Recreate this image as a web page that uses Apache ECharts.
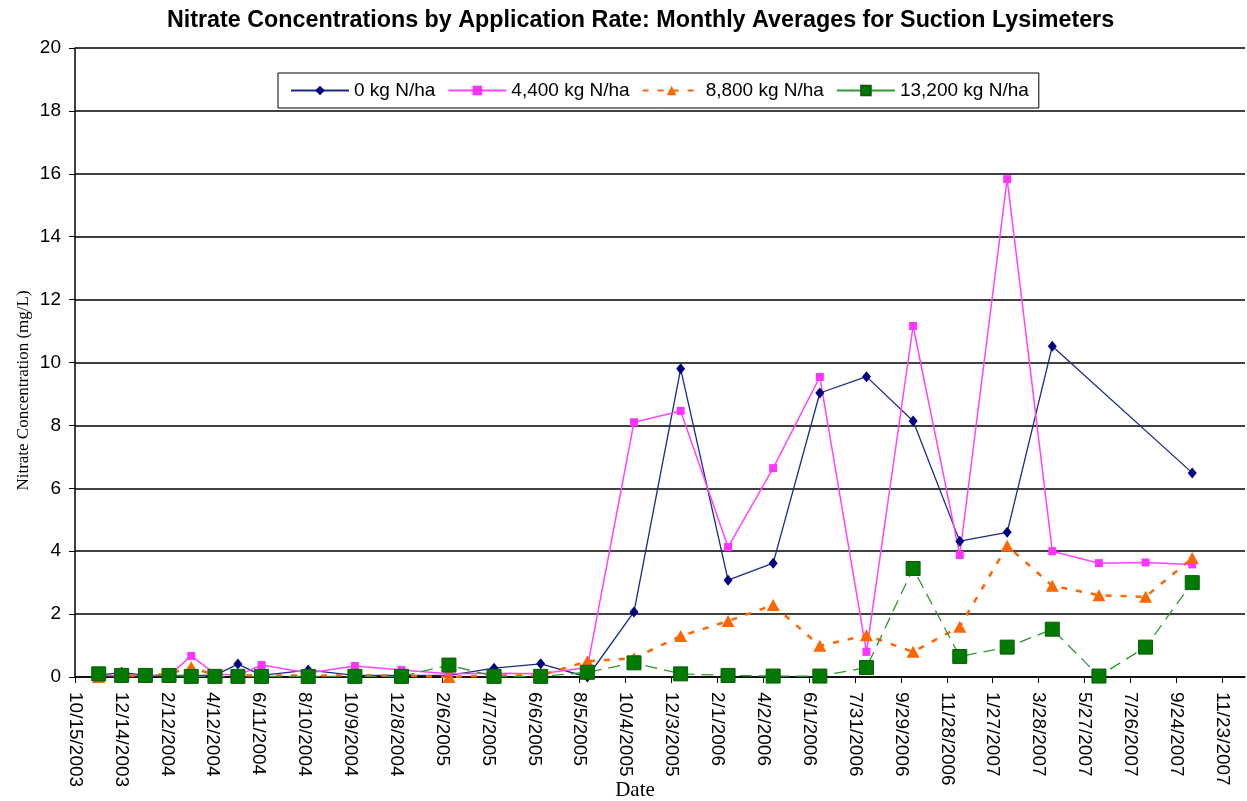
<!DOCTYPE html>
<html>
<head>
<meta charset="utf-8">
<title>Nitrate Concentrations</title>
<script src="https://cdn.jsdelivr.net/npm/echarts@6/dist/echarts.min.js"></script>
<style>
  html, body { margin: 0; padding: 0; background: #fff; }
  #chart { width: 1247px; height: 801px; }
</style>
</head>
<body>
<div id="chart"></div>
<script>
// sample dates (mid-month averages)
const sampleDates = [
  '2003-11-15', '2003-12-15', '2004-01-15', '2004-02-15', '2004-03-15', '2004-04-15',
  '2004-05-15', '2004-06-15', '2004-08-15', '2004-10-15', '2004-12-15', '2005-02-15',
  '2005-04-15', '2005-06-15', '2005-08-15', '2005-10-15', '2005-12-15', '2006-02-15',
  '2006-04-15', '2006-06-15', '2006-08-15', '2006-10-15', '2006-12-15', '2007-02-15',
  '2007-04-15', '2007-06-15', '2007-08-15', '2007-10-15'
]

// nitrate mg/L, one array per application rate (null = no sample)
const rate0 = [0.05, 0.15, 0.05, 0.05, 0.05, 0.05, 0.41, 0.05, 0.22, 0.05, 0.05, 0.05,
  0.28, 0.42, 0.0, 2.07, 9.8, 3.08, 3.62, 9.03, 9.55, 8.14, 4.32, 4.6, 10.52, null, null, 6.49]
const rate4400 = [0.05, 0.05, 0.05, 0.05, 0.67, 0.1, 0.05, 0.38, 0.13, 0.35, 0.22, 0.1,
  0.12, 0.1, 0.3, 8.1, 8.46, 4.13, 6.64, 9.54, 0.8, 11.16, 3.88, 15.83, 4.0, 3.62, 3.64, 3.58]
const rate8800 = [0.0, 0.05, 0.05, 0.1, 0.32, 0.05, 0.05, 0.05, 0.05, 0.05, 0.05, 0.0,
  0.05, 0.05, 0.5, 0.6, 1.3, 1.78, 2.29, 0.99, 1.33, 0.8, 1.6, 4.17, 2.9, 2.6, 2.55, 3.78]
const rate13200 = [0.1, 0.05, 0.05, 0.05, 0.02, 0.02, 0.02, 0.02, 0.02, 0.02, 0.02, 0.38,
  0.02, 0.02, 0.15, 0.45, 0.1, 0.05, 0.03, 0.03, 0.3, 3.45, 0.65, 0.95, 1.52, 0.03, 0.95, 3.0]

const seriesNames = ['0 kg N/ha', '4,400 kg N/ha', '8,800 kg N/ha', '13,200 kg N/ha']

// x axis runs in days from 10/15/2003, a tick every 60 days
const axisStart = Date.UTC(2003, 9, 15)
const DAY = 86400000
const tickDays = 60
const axisEndDays = 1530

function dayOffset(s) {
  const p = s.split('-')
  return (Date.UTC(+p[0], +p[1] - 1, +p[2]) - axisStart) / DAY
}

function dayLabel(d) {
  if (d % tickDays !== 0) return ''
  const dt = new Date(axisStart + d * DAY)
  return (dt.getUTCMonth() + 1) + '/' + dt.getUTCDate() + '/' + dt.getUTCFullYear()
}

function pairs(values) {
  let out = []
  sampleDates.forEach((s, i) => {
    if (values[i] !== null) out.push([dayOffset(s), values[i]])
  })
  return out
}

const sans = 'Liberation Sans, Arial, sans-serif'
const serif = 'Liberation Serif, Times New Roman, serif'

let chart = echarts.init(document.getElementById('chart'))

option = {
  backgroundColor: '#fff',
  animation: false,
  title: {
    text: 'Nitrate Concentrations by Application Rate: Monthly Averages for Suction Lysimeters',
    left: 162,
    top: 4,
    textStyle: { fontFamily: sans, fontSize: 23.3, fontWeight: 'bold', color: '#000' }
  },
  legend: {
    left: 278,
    top: 73,
    padding: [8, 10, 8, 12],
    borderColor: '#000',
    borderWidth: 1,
    itemGap: 12,
    itemWidth: 58,
    itemHeight: 12,
    textStyle: { fontFamily: sans, fontSize: 19, color: '#000' },
    data: [
      seriesNames[0],
      seriesNames[1],
      seriesNames[2],
      { name: seriesNames[3], lineStyle: { type: 'solid' } }
    ]
  },
  grid: { left: 75, right: 2, top: 48, bottom: 124, outerBoundsMode: 'none', containLabel: false },
  xAxis: {
    type: 'value',
    min: 0,
    max: axisEndDays,
    interval: tickDays,
    name: 'Date',
    nameLocation: 'middle',
    nameGap: 103,
    nameMoveOverlap: false,
    nameTextStyle: { fontFamily: serif, fontSize: 21, color: '#000', padding: [0, 50, 0, 0] },
    axisLine: { show: true, lineStyle: { color: '#000', width: 1.5 } },
    axisTick: { show: true, length: 6, lineStyle: { color: '#000' } },
    axisLabel: {
      rotate: -90,
      margin: 15,
      showMaxLabel: false,
      fontFamily: sans,
      fontSize: 19,
      color: '#000',
      formatter: dayLabel
    },
    splitLine: { show: false }
  },
  yAxis: {
    type: 'value',
    min: 0,
    max: 20,
    interval: 2,
    name: 'Nitrate Concentration (mg/L)',
    nameLocation: 'middle',
    nameGap: 43,
    nameMoveOverlap: false,
    nameTextStyle: { fontFamily: serif, fontSize: 17, color: '#000', padding: [0, 56, 0, 0] },
    axisLine: { show: true, lineStyle: { color: '#000', width: 1.5 } },
    axisTick: { show: true, length: 6, lineStyle: { color: '#000' } },
    axisLabel: { margin: 14, fontFamily: sans, fontSize: 19, color: '#000' },
    splitLine: { show: true, lineStyle: { color: '#000', width: 1.5 } }
  },
  series: [
    {
      name: seriesNames[0],
      type: 'line',
      data: pairs(rate0),
      symbol: 'diamond',
      symbolSize: [9, 11],
      clip: false,
      itemStyle: { color: '#000080' },
      lineStyle: { color: '#1c2a86', width: 1.3 }
    },
    {
      name: seriesNames[1],
      type: 'line',
      data: pairs(rate4400),
      symbol: 'rect',
      symbolSize: 8,
      clip: false,
      itemStyle: { color: '#ff33ff' },
      lineStyle: { color: '#ff44ff', width: 1.5 }
    },
    {
      name: seriesNames[2],
      type: 'line',
      data: pairs(rate8800),
      symbol: 'triangle',
      symbolSize: [13, 12],
      clip: false,
      itemStyle: { color: '#ff6600' },
      lineStyle: { color: '#ff6600', width: 2.5, type: [6, 9] }
    },
    {
      name: seriesNames[3],
      type: 'line',
      data: pairs(rate13200),
      symbol: 'rect',
      symbolSize: 14,
      clip: false,
      itemStyle: { color: '#007a00', borderColor: '#0a5c0a', borderWidth: 1 },
      lineStyle: { color: '#2e9a2e', width: 1.3, type: [12, 7] }
    }
  ]
}
chart.setOption(option)
</script>
</body>
</html>
